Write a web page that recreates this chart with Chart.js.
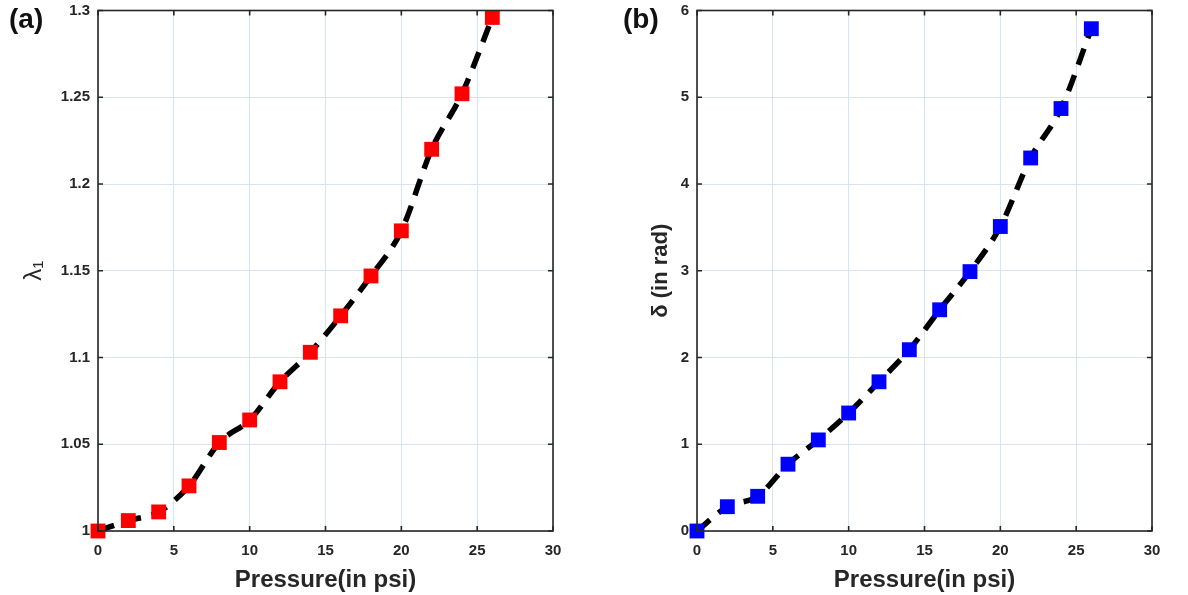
<!DOCTYPE html>
<html>
<head>
<meta charset="utf-8">
<script src="https://cdn.jsdelivr.net/npm/chart.js@4.4.1/dist/chart.umd.min.js"></script>
<style>
  body { margin: 0; background: #fff; }
  #wrap { position: relative; width: 1188px; height: 595px; overflow: hidden; }
  .panel { position: absolute; top: 0; width: 594px; height: 595px; }
  .tag { position: absolute; font: bold 28px "Liberation Sans", Arial, sans-serif; color: #111; line-height: 32px; }
</style>
</head>
<body>
<div id="wrap">
  <div class="panel" style="left:0"><canvas id="chartA"></canvas></div>
  <div class="panel" style="left:594px"><canvas id="chartB"></canvas></div>
  <div class="tag" style="left:9px; top:3px">(a)</div>
  <div class="tag" style="left:623px; top:3px">(b)</div>
</div>
<script>
// Pressure steps shared by both panels (psi)
const pressure = [0, 2, 4, 6, 8, 10, 12, 14, 16, 18, 20, 22, 24, 26];
// Principal stretch lambda_1
const stretch = [1.000, 1.006, 1.011, 1.026, 1.051, 1.064, 1.086, 1.103, 1.124, 1.147, 1.173, 1.220, 1.252, 1.296];
// Bending angle delta (rad)
const angle = [0.00, 0.28, 0.40, 0.77, 1.05, 1.36, 1.72, 2.09, 2.55, 2.99, 3.51, 4.30, 4.87, 5.79];

const xTicks = [0, 5, 10, 15, 20, 25, 30];
const stretchTicks = [1, 1.05, 1.1, 1.15, 1.2, 1.25, 1.3];
const angleTicks = [0, 1, 2, 3, 4, 5, 6];

const AXIS_COLOR = '#262626';
const GRID_COLOR = '#d7e5f1';
const FONT = '"Liberation Sans", Arial, sans-serif';

/**
 * Draws the MATLAB-style box with inward ticks on all four sides
 */
const boxPlugin = {
  id: 'boxTicks',
  afterDatasetsDraw(chart) {
    const { ctx, chartArea: a, scales } = chart;
    const len = 5;
    ctx.save();
    ctx.strokeStyle = AXIS_COLOR;
    ctx.lineWidth = 1.6;
    ctx.strokeRect(a.left, a.top, a.right - a.left, a.bottom - a.top);
    ctx.beginPath();
    scales.x.ticks.forEach(t => {
      const px = scales.x.getPixelForValue(t.value);
      ctx.moveTo(px, a.bottom); ctx.lineTo(px, a.bottom - len);
      ctx.moveTo(px, a.top); ctx.lineTo(px, a.top + len);
    });
    scales.y.ticks.forEach(t => {
      const py = scales.y.getPixelForValue(t.value);
      ctx.moveTo(a.left, py); ctx.lineTo(a.left + len, py);
      ctx.moveTo(a.right, py); ctx.lineTo(a.right - len, py);
    });
    ctx.stroke();
    ctx.restore();
  }
};

function fmt(v) {
  return String(Number(v.toFixed(2)));
}

function makeChart(id, values, color, yTicks, yTitle, yTitleFont, yTitleOffset, yWidth, rightPad) {
  const ctx = document.getElementById(id);
  return new Chart(ctx, {
    type: 'line',
    data: {
      labels: pressure,
      datasets: [{
        data: pressure.map((p, i) => ({ x: p, y: values[i] })),
        borderColor: '#000',
        borderWidth: 5.5,
        borderDash: [17, 11],
        borderCapStyle: 'butt',
        cubicInterpolationMode: 'monotone',
        pointStyle: 'rect',
        pointRadius: 10.5,
        pointHoverRadius: 10.5,
        pointBackgroundColor: color,
        pointBorderColor: color,
        pointBorderWidth: 0,
        clip: false
      }]
    },
    options: {
      responsive: true,
      maintainAspectRatio: false,
      animation: false,
      events: [],
      layout: { padding: { top: 9, right: rightPad, left: 0, bottom: 0 } },
      plugins: { legend: { display: false }, tooltip: { enabled: false } },
      scales: {
        x: {
          type: 'linear',
          min: 0,
          max: 30,
          afterBuildTicks: s => { s.ticks = xTicks.map(v => ({ value: v })); },
          afterFit: s => { s.height = 64; s.paddingLeft = 0; s.paddingRight = 0; },
          border: { display: false },
          grid: { color: GRID_COLOR, lineWidth: 1, drawTicks: false },
          ticks: {
            padding: 11,
            color: AXIS_COLOR,
            font: { family: FONT, size: 15, weight: 'bold' },
            maxRotation: 0,
            callback: v => fmt(v)
          },
          title: {
            display: true,
            text: 'Pressure(in psi)',
            color: AXIS_COLOR,
            font: { family: FONT, size: 24, weight: 'bold' },
            padding: { top: 2, bottom: 0 }
          }
        },
        y: {
          type: 'linear',
          min: yTicks[0],
          max: yTicks[yTicks.length - 1],
          afterBuildTicks: s => { s.ticks = yTicks.map(v => ({ value: v })); },
          afterFit: s => { s.width = yWidth; s.paddingTop = 0; s.paddingBottom = 0; },
          border: { display: false },
          grid: { color: GRID_COLOR, lineWidth: 1, drawTicks: false },
          ticks: {
            padding: 8,
            color: AXIS_COLOR,
            font: { family: FONT, size: 15, weight: 'bold' },
            callback: v => fmt(v)
          },
          title: {
            display: true,
            text: yTitle,
            color: AXIS_COLOR,
            font: yTitleFont,
            padding: { top: yTitleOffset, bottom: 0 }
          }
        }
      }
    },
    plugins: [boxPlugin]
  });
}

makeChart('chartA', stretch, '#ff0000', stretchTicks, 'λ₁',
  { family: FONT, size: 24, weight: 'normal' }, 20, 98, 41);
makeChart('chartB', angle, '#0000ff', angleTicks, 'δ (in rad)',
  { family: FONT, size: 22, weight: 'bold' }, 54, 103, 36);
</script>
</body>
</html>
